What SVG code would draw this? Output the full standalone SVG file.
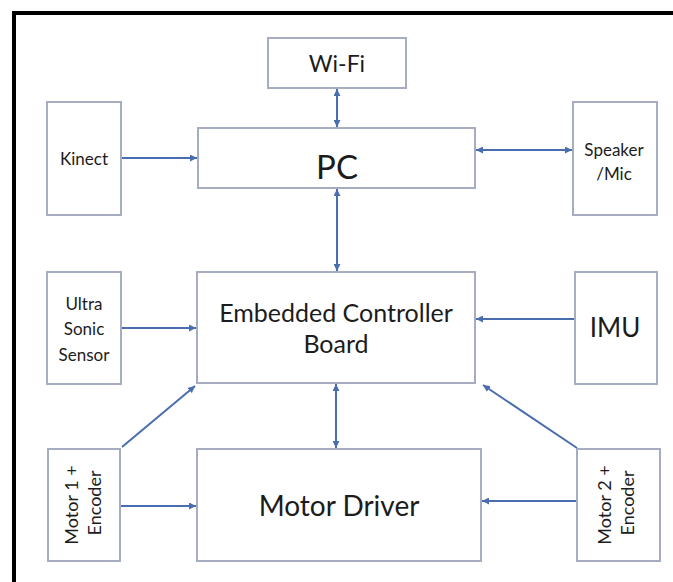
<svg xmlns="http://www.w3.org/2000/svg" width="673" height="582" viewBox="0 0 673 582">
<defs>
<marker id="ah" markerUnits="userSpaceOnUse" markerWidth="8" markerHeight="7" refX="7" refY="3.5" orient="auto-start-reverse">
<path d="M0,0 L7,3.5 L0,7 z" fill="#4a6db0"/>
</marker>
<style>
.box{fill:#ffffff;stroke:#a6adc2;stroke-width:2}
.t{font-family:Lato,"Open Sans","Liberation Sans",sans-serif;fill:#1c1c1c;text-anchor:middle}
.s{font-size:17px}
.c{stroke:#4a6db0;stroke-width:2;fill:none}
.one{marker-end:url(#ah)}
.two{marker-start:url(#ah);marker-end:url(#ah)}
</style>
</defs>
<rect x="0" y="0" width="673" height="582" fill="#ffffff"/>
<g id="frame">
<line x1="12" y1="13" x2="673" y2="13" stroke="#000" stroke-width="4"/>
<line x1="14" y1="11" x2="14" y2="582" stroke="#000" stroke-width="4"/>
</g>
<g id="wifi"><rect class="box" x="268" y="38" width="138" height="50"/><text class="t" x="337" y="72" font-size="23">Wi-Fi</text></g>
<g id="kinect"><rect class="box" x="47" y="102" width="74" height="113"/><text class="t s" x="84" y="165">Kinect</text></g>
<g id="pc"><rect class="box" x="198" y="128" width="277" height="60"/><text class="t" x="337" y="179" font-size="33">PC</text></g>
<g id="speaker"><rect class="box" x="573" y="102" width="84" height="113"/><text class="t s" x="614" y="156">Speaker</text><text class="t s" x="614" y="180">/Mic</text></g>
<g id="ultra"><rect class="box" x="47" y="272" width="74" height="112"/><text class="t s" x="84" y="310">Ultra</text><text class="t s" x="84" y="335">Sonic</text><text class="t s" x="84" y="361">Sensor</text></g>
<g id="ecb"><rect class="box" x="197" y="272" width="278" height="111"/><text class="t" x="336" y="322" font-size="25">Embedded Controller</text><text class="t" x="336" y="353" font-size="25">Board</text></g>
<g id="imu"><rect class="box" x="575" y="272" width="82" height="112"/><text class="t" x="615" y="337" font-size="26">IMU</text></g>
<g id="motor1"><rect class="box" x="48" y="449" width="72" height="112"/><text class="t" font-size="18" transform="translate(78,505) rotate(-90)">Motor 1 +</text><text class="t" font-size="18" transform="translate(101,503) rotate(-90)">Encoder</text></g>
<g id="motordriver"><rect class="box" x="197" y="449" width="284" height="112"/><text class="t" x="339" y="516" font-size="28">Motor Driver</text></g>
<g id="motor2"><rect class="box" x="577" y="449" width="83" height="112"/><text class="t" font-size="18" transform="translate(611,505) rotate(-90)">Motor 2 +</text><text class="t" font-size="18" transform="translate(634,503) rotate(-90)">Encoder</text></g>
<g id="connectors">
<line class="c two" x1="337" y1="89" x2="337" y2="127"/>
<line class="c one" x1="122" y1="158" x2="197" y2="158"/>
<line class="c two" x1="476" y1="150" x2="572" y2="150"/>
<line class="c two" x1="337" y1="189" x2="337" y2="271"/>
<line class="c one" x1="122" y1="328" x2="196" y2="328"/>
<line class="c one" x1="574" y1="319" x2="476" y2="319"/>
<line class="c one" x1="122" y1="447" x2="195" y2="386"/>
<line class="c one" x1="577" y1="448" x2="483" y2="385"/>
<line class="c two" x1="336" y1="384" x2="336" y2="448"/>
<line class="c one" x1="121" y1="506" x2="196" y2="506"/>
<line class="c one" x1="576" y1="501" x2="482" y2="501"/>
</g>
</svg>
